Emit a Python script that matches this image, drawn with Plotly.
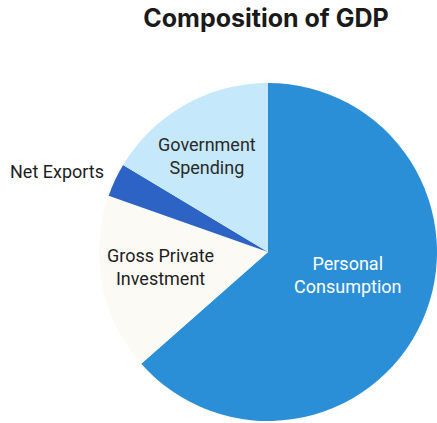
import plotly.graph_objects as go

categories = ["Personal Consumption", "Gross Private Investment", "Net Exports", "Government Spending"]
shares = [63.5, 16.9, 3.2, 16.4]
colors = ["#2b8fd8", "#fcfaf5", "#2c63c4", "#c6e8fb"]

W, H = 437, 423
fig = go.Figure(go.Pie(
    labels=categories,
    values=shares,
    sort=False,
    direction="clockwise",
    rotation=0,
    marker=dict(colors=colors, line=dict(width=0)),
    textinfo="none",
    hoverinfo="label+percent",
    domain=dict(x=[99 / W, 1.0], y=[1 - 421 / H, 1 - 83 / H]),
    showlegend=False,
))

labels = [
    ("Net Exports", 57, 171, "#1e1e1e"),
    ("Government<br>Spending", 207, 156, "#2a2a2a"),
    ("Gross Private<br>Investment", 160, 267, "#1e1e1e"),
    ("Personal<br>Consumption", 348, 275, "#ffffff"),
]
for txt, px, py, col in labels:
    fig.add_annotation(
        text=txt, x=px / W, y=1 - py / H, xref="paper", yref="paper",
        showarrow=False, xanchor="center", yanchor="middle",
        font=dict(family="Roboto, Arial, sans-serif", size=18, color=col),
    )

fig.update_layout(
    width=W, height=H,
    margin=dict(l=0, r=0, t=0, b=0),
    paper_bgcolor="white",
    plot_bgcolor="white",
    title=dict(
        text="<b>Composition of GDP</b>",
        x=266 / W, xanchor="center", y=1 - 18 / H, yanchor="middle",
        font=dict(family="Inter, Arial, sans-serif", size=25, color="#1a1a1a", weight=800),
    ),
)

fig.write_html(
    "out.html",
    config={"displayModeBar": False},
    post_script="document.body.style.margin='0';document.body.style.overflow='hidden';",
)
